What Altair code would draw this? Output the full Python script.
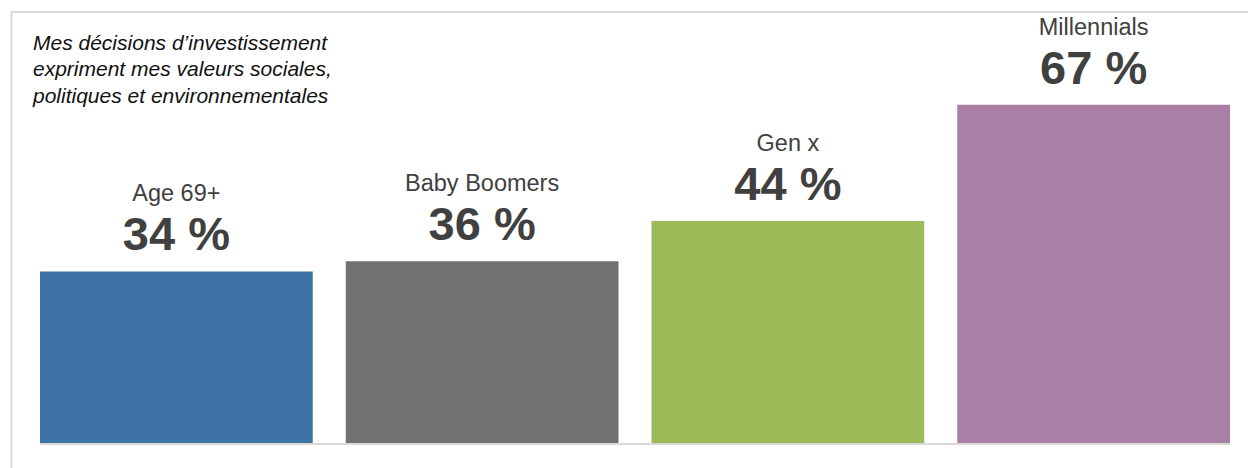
import altair as alt
import pandas as pd

categories = ["Age 69+", "Baby Boomers", "Gen x", "Millennials"]
values = [34, 36, 44, 67]
value_labels = ["34 %", "36 %", "44 %", "67 %"]
colors = ["#3E74A5", "#717173", "#9BBB59", "#A97FA6"]
title_lines = ["Mes décisions d’investissement",
               "expriment mes valeurs sociales,",
               "politiques et environnementales"]

df = pd.DataFrame({"cat": categories, "val": values, "lab": value_labels})

FONT = "Liberation Sans"
W, H = 1190, 424

x = alt.X("cat:N", sort=categories, axis=None,
          scale=alt.Scale(paddingInner=0.108, paddingOuter=0))
y = alt.Y("val:Q", axis=None, scale=alt.Scale(domain=[0, 84], nice=False, zero=True))

bars = alt.Chart(df).mark_bar().encode(
    x=x, y=y,
    color=alt.Color("cat:N", sort=categories, legend=None,
                    scale=alt.Scale(domain=categories, range=colors)),
)

names = alt.Chart(df).mark_text(
    font=FONT, fontSize=23.5, color="#404040", baseline="alphabetic", align="center", dy=-70
).encode(x=x, y=y, text="cat:N")

vals = alt.Chart(df).mark_text(
    font=FONT, fontSize=47, fontWeight="bold", color="#404040",
    baseline="alphabetic", align="center", dy=-21
).encode(x=x, y=y, text="lab:N")

data_layer = alt.layer(bars, names, vals)

# decorative frame + baseline (pixel positions)
deco = pd.DataFrame({
    "x1": [-28.5, -29, 0],
    "x2": [-28.5, W + 18, W],
    "y1": [-8, -7, H + 1],
    "y2": [H + 25, -7, H + 1],
})
frame = alt.Chart(deco).mark_rule(color="#D9D9D9", strokeWidth=2).encode(
    x=alt.X("x1:Q", scale=None), x2="x2:Q",
    y=alt.Y("y1:Q", scale=None), y2="y2:Q",
)

tdf = pd.DataFrame({"t": ["\n".join(title_lines)], "px": [-7], "py": [30.5]})
title = alt.Chart(tdf).mark_text(
    font=FONT, fontSize=21, fontStyle="italic", color="#111111",
    align="left", baseline="alphabetic", lineBreak="\n", lineHeight=26.5
).encode(x=alt.X("px:Q", scale=None), y=alt.Y("py:Q", scale=None), text="t:N")

chart = alt.layer(data_layer, frame, title).resolve_scale(
    x="independent", y="independent"
).properties(
    width=W, height=H,
    autosize=alt.AutoSizeParams(type="none"),
    padding={"left": 40, "top": 19, "right": 18, "bottom": 25},
    background="white",
).configure_view(stroke=None)

chart.save("out.html", embed_options={"renderer": "svg", "actions": False})
